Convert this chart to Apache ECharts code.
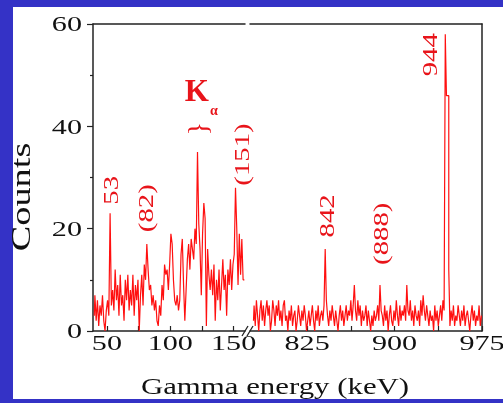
<!DOCTYPE html>
<html><head><meta charset="utf-8">
<script src="https://cdn.jsdelivr.net/npm/echarts@6/dist/echarts.min.js"></script>
<style>
html,body{margin:0;padding:0;background:#3432c6;width:503px;height:403px;overflow:hidden}
#panel{position:absolute;left:13px;top:7px;width:490px;height:392px;background:#fff}
#c{position:absolute;left:0;top:0;width:503px;height:403px}
</style></head>
<body><div id="panel"></div><div id="c"></div>
<script>
// ---- data ----
// low-energy part: 1 keV bins, centres starting at 40 keV
const lowStart = 40, lowBin = 1;
const lowCounts = [3,7,2,6,1,5,3,7,2,0, 4,6,3,23,5,8,4,12,6,9, 3,11,5,7,2,10,6,11,4,8,
  5,11,3,9,6,10,0,7,11,5, 13,10,17,12,8,9,5,7,4,6, 2,1,5,3,9,6,13,11,12,8,
  13,19,17,10,6,5,7,4,6,15, 18,9,2,8,14,17,12,18,16,14, 20,17,35,21,16,7,19,25,22,1,
  16,11,8,12,7,13,2,10,6,12, 4,9,14,8,11,3,12,9,14,8, 13,15,28,20,9,19,11,18,10,10];
// high-energy part: 1 keV bins, centres starting at 779 keV
const highStart = 779, highBin = 1;
const highCounts = [
  2,5,1,6,3,0,4,6,2,5,  1,4,6,3,5,0,2,6,4,1,  5,3,6,2,4,1,5,6,2,3,
  0,4,2,5,1,3,4,0,2,5,  3,1,4,2,5,3,0,2,4,1,  3,5,2,0,4,2,5,1,3,4,
  2,5,16,6,3,1,4,2,5,3, 1,4,2,0,3,5,2,4,1,3,  5,2,4,3,6,2,5,9,4,2,
  6,3,5,1,4,2,3,5,1,4,  2,0,3,1,4,2,3,5,2,9,  4,3,1,5,2,4,0,3,5,2,
  1,4,2,6,3,1,5,2,4,3,  5,2,9,4,3,6,2,4,1,5,  3,2,4,1,6,3,7,4,2,5,
  3,1,4,2,3,0,5,2,4,1,  3,5,2,6,4,58,46,46,12,1, 4,2,5,1,3,2,5,3,1,4,
  2,5,1,3,4,2,0,3,5,2,  4,1,3,2,5,1,3];
const yTickLabels = [0, 20, 40, 60];
const lowTickLabels = [50, 100, 150];
const lowTickMarks = [50, 75, 100, 125, 150];
const highTickLabels = [825, 900, 975];
const highTickMarks = [825, 862.5, 900, 937.5, 975];
const annotations = [
  {text:'53', series:0, x:54, y:27.5},
  {text:'(82)', series:0, x:82.4, y:24},
  {text:'(151)', series:0, x:157.5, y:34.5},
  {text:'842', series:1, x:843, y:22.5},
  {text:'(888)', series:1, x:890, y:19},
  {text:'944', series:1, x:932, y:54}
];

const lowData = lowCounts.map((v,i)=>[lowStart + i*lowBin, v]);
const highData = highCounts.map((v,i)=>[highStart + i*highBin, v]);

const serif = '"Liberation Serif","Times New Roman",serif';
const axisCol = '#222';
const txtCol = '#111';
const red = '#e8141a';
const SX = 1.37; // horizontal stretch of the original lettering
const chart = echarts.init(document.getElementById('c'), null, {renderer:'canvas'});

const gTop = 24, gHeight = 307;
const frameX = (gi, marks, min, max) => ({
  type:'value', gridIndex:gi, min, max, position:'bottom',
  axisLine:{show:true, onZero:false, lineStyle:{color:axisCol, width:1.5}},
  axisTick:{show:true, inside:true, length:5, customValues:marks, lineStyle:{color:axisCol, width:1.2}},
  axisLabel:{show:false},
  splitLine:{show:false}
});
const topX = (gi, min, max) => ({
  type:'value', gridIndex:gi, min, max, position:'top',
  axisLine:{show:true, onZero:false, lineStyle:{color:axisCol, width:1.5}},
  axisTick:{show:false}, axisLabel:{show:false}, splitLine:{show:false}
});

const option = {
  animation:false,
  backgroundColor:'transparent',
  grid:[
    {left:93, top:gTop, width:152, height:gHeight},
    {left:250, top:gTop, width:232, height:gHeight}
  ],
  xAxis:[
    frameX(0, lowTickMarks, 39, 159),
    frameX(1, highTickMarks, 776, 975),
    topX(0, 39, 159),
    topX(1, 776, 975)
  ],
  yAxis:[
    {type:'value', gridIndex:0, min:0, max:60, interval:20,
      axisLine:{show:true, onZero:false, lineStyle:{color:axisCol, width:1.5}},
      axisTick:{show:true, inside:false, length:6, lineStyle:{color:axisCol, width:1.2}},
      minorTick:{show:true, splitNumber:2, length:3, lineStyle:{color:axisCol, width:1.2}},
      axisLabel:{show:false},
      splitLine:{show:false}},
    {type:'value', gridIndex:1, min:0, max:60, interval:20, position:'right',
      axisLine:{show:true, onZero:false, lineStyle:{color:axisCol, width:1.5}},
      axisTick:{show:false}, axisLabel:{show:false}, splitLine:{show:false}}
  ],
  series:[
    {type:'line', xAxisIndex:0, yAxisIndex:0, data:lowData, step:'middle', symbol:'none',
      lineStyle:{color:'#ff1010', width:1.2}, clip:true},
    {type:'line', xAxisIndex:1, yAxisIndex:1, data:highData, step:'middle', symbol:'none',
      lineStyle:{color:'#ff1010', width:1.2}, clip:true}
  ]
};
chart.setOption(option);

const g = [];
const txt = (s, x, y, size, color, opt) => Object.assign({type:'text', x, y, scaleX:SX,
  style:{text:s, fill:color, font:size + 'px ' + serif, align:'center', verticalAlign:'middle'}}, opt||{});

// tick labels (stretched lettering)
yTickLabels.forEach(v=>{
  const p = chart.convertToPixel({seriesIndex:0}, [39, v]);
  const t = txt(String(v), p[0]-11, p[1]+1.5, 22, txtCol);
  t.style.align = 'right';
  g.push(t);
});
lowTickLabels.forEach(v=>{
  const p = chart.convertToPixel({seriesIndex:0}, [v, 0]);
  g.push(txt(String(v), p[0], p[1]+13, 22, txtCol));
});
highTickLabels.forEach(v=>{
  const p = chart.convertToPixel({seriesIndex:1}, [v, 0]);
  g.push(txt(String(v), p[0], p[1]+13, 22, txtCol));
});

// peak annotations anchored in data coordinates
annotations.forEach(a=>{
  const p = chart.convertToPixel({seriesIndex:a.series}, [a.x, a.y]);
  g.push(txt(a.text, p[0], p[1], 21, red, {rotation:Math.PI/2}));
});
// K-alpha label with brace
const kp = chart.convertToPixel({seriesIndex:0}, [121, 46.5]);
g.push({type:'text', x:kp[0], y:kp[1],
  style:{text:'K', fill:red, font:'bold 31px ' + serif, align:'center', verticalAlign:'middle'}});
g.push({type:'text', x:kp[0]+17, y:kp[1]+18,
  style:{text:'α', fill:red, font:'bold 14px ' + serif, align:'center', verticalAlign:'middle'}});
const bp = chart.convertToPixel({seriesIndex:0}, [123, 39.5]);
g.push({type:'text', x:bp[0], y:bp[1], rotation:Math.PI/2,
  style:{text:'}', fill:red, font:'28px ' + serif, align:'center', verticalAlign:'middle'}});
// axis titles
g.push(txt('Counts', 23, 197, 28, txtCol, {rotation:Math.PI/2}));
g.push(txt('Gamma energy (keV)', 275, 388, 22.5, txtCol));
// axis-break marks
const b0 = chart.convertToPixel({xAxisIndex:0, yAxisIndex:0}, [159, 0]);
[0, 5].forEach(dx=>{
  g.push({type:'line', shape:{x1:b0[0]-3+dx, y1:b0[1]+5, x2:b0[0]+3+dx, y2:b0[1]-5},
    style:{stroke:axisCol, lineWidth:1.3}});
});
chart.setOption({graphic:g});
</script></body></html>
